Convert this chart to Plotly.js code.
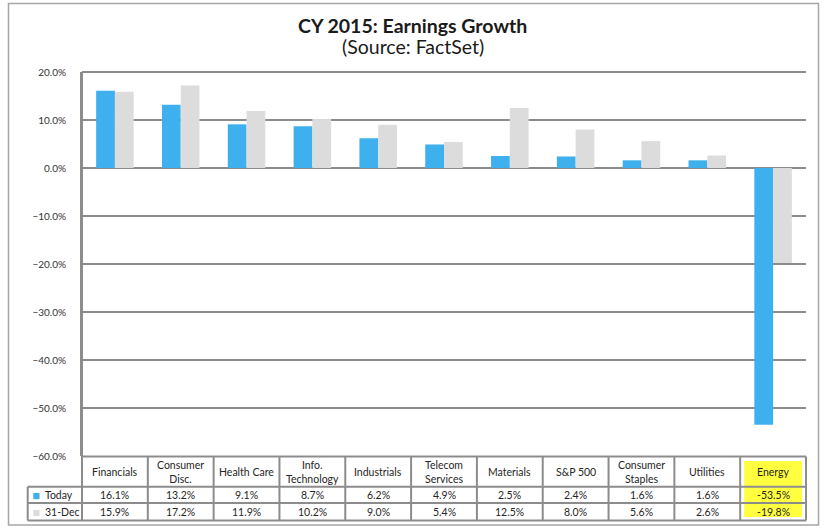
<!DOCTYPE html>
<html>
<head>
<meta charset="utf-8">
<script src="https://cdn.plot.ly/plotly-3.0.1.min.js"></script>
<style>html,body{margin:0;padding:0;background:#fff;}#chart{width:834px;height:532px;}</style>
</head>
<body>
<div id="chart"></div>
<script>
// ---- data ----
var categories = ["Financials", "Consumer<br>Disc.", "Health Care", "Info.<br>Technology", "Industrials", "Telecom<br>Services", "Materials", "S&P 500", "Consumer<br>Staples", "Utilities", "Energy"];
var seriesNames = ["Today", "31-Dec"];
var todayValues = [16.1, 13.2, 9.1, 8.7, 6.2, 4.9, 2.5, 2.4, 1.6, 1.6, -53.5];
var decValues = [15.9, 17.2, 11.9, 10.2, 9.0, 5.4, 12.5, 8.0, 5.6, 2.6, -19.8];
var highlightCategory = "Energy";
var titleLines = ["CY 2015: Earnings Growth", "(Source: FactSet)"];

// ---- styles ----
var FONT = "Lato, 'Open Sans', sans-serif";
var BLUE = "#3fb0ee";
var GREY = "#dcdcdc";
var LINE = "#8c8c8c";
var TXT = "#262626";

var catKeys = categories.map(function (c, i) { return "c" + i; });

var traces = [
  { type: "bar", name: seriesNames[0], x: catKeys, y: todayValues, marker: { color: BLUE, line: { width: 0 } }, hoverinfo: "skip" },
  { type: "bar", name: seriesNames[1], x: catKeys, y: decValues, marker: { color: GREY, line: { width: 0 } }, hoverinfo: "skip" }
];

// table geometry in paper units (plot area: 82..806 px wide, 72..456 px tall)
var W = 724, H = 384;
function px(p) { return (p - 82) / W; }
function py(p) { return (456 - p) / H; }

var n = categories.length;
var yTop = py(456.5), yHead = py(486.7), yRow1 = py(503), yRow2 = py(520.5);
var xLeg = px(27.7);

var shapes = [];
// highlight behind Energy column
var hi = categories.indexOf(highlightCategory);
shapes.push({ type: "rect", xref: "paper", yref: "paper", x0: (hi + 0.06) / n, x1: (hi + 0.94) / n, y0: py(461), y1: py(517), fillcolor: "#ffff40", line: { width: 0 }, layer: "above" });
// outer chart border
shapes.push({ type: "rect", xref: "paper", yref: "paper", x0: px(8.5), x1: px(818.5), y0: py(3.5), y1: py(525), line: { color: "#a6a6a6", width: 1.5 }, fillcolor: "rgba(0,0,0,0)" });
// top line of plot area
shapes.push({ type: "line", xref: "paper", yref: "paper", x0: 0, x1: 1, y0: 1, y1: 1, line: { color: LINE, width: 2 } });
// table horizontal lines
shapes.push({ type: "line", xref: "paper", yref: "paper", x0: 0, x1: 1, y0: yTop, y1: yTop, line: { color: LINE, width: 2 } });
[yHead, yRow1, yRow2].forEach(function (yy) {
  shapes.push({ type: "line", xref: "paper", yref: "paper", x0: xLeg, x1: 1, y0: yy, y1: yy, line: { color: LINE, width: 2 } });
});
// table vertical lines
for (var i = 0; i <= n; i++) {
  shapes.push({ type: "line", xref: "paper", yref: "paper", x0: i / n, x1: i / n, y0: i === 0 ? 1 : yTop, y1: yRow2, line: { color: LINE, width: 2 } });
}
shapes.push({ type: "line", xref: "paper", yref: "paper", x0: xLeg, x1: xLeg, y0: yHead, y1: yRow2, line: { color: LINE, width: 2 } });
// legend keys
var keyColors = [BLUE, GREY];
var rowMid = [(yHead + yRow1) / 2, (yRow1 + yRow2) / 2];
for (var k = 0; k < 2; k++) {
  var c = rowMid[k] - 1.2 / H;
  shapes.push({ type: "rect", xref: "paper", yref: "paper", x0: px(33.3), x1: px(39.5), y0: c - 3.1 / H, y1: c + 3.1 / H, fillcolor: keyColors[k], line: { width: 0 } });
}

var annotations = [];
// title (two lines)
annotations.push({ xref: "paper", yref: "paper", x: px(412), y: py(25), text: "<b>" + titleLines[0] + "</b>", showarrow: false, font: { family: FONT, size: 19.5, color: "#1a1a1a" }, xanchor: "center", yanchor: "middle" });
annotations.push({ xref: "paper", yref: "paper", x: px(413), y: py(47), text: titleLines[1], showarrow: false, font: { family: FONT, size: 19.5, color: "#1a1a1a" }, xanchor: "center", yanchor: "middle" });

var headMid = (yTop + yHead) / 2;
categories.forEach(function (cat, i) {
  annotations.push({ xref: "x", yref: "paper", x: catKeys[i], y: headMid, text: cat, showarrow: false, font: { family: FONT, size: 10.5, color: TXT }, align: "center", xanchor: "center", yanchor: "middle" });
  annotations.push({ xref: "x", yref: "paper", x: catKeys[i], y: rowMid[0], text: todayValues[i].toFixed(1) + "%", showarrow: false, font: { family: FONT, size: 10.5, color: TXT }, xanchor: "center", yanchor: "middle" });
  annotations.push({ xref: "x", yref: "paper", x: catKeys[i], y: rowMid[1], text: decValues[i].toFixed(1) + "%", showarrow: false, font: { family: FONT, size: 10.5, color: TXT }, xanchor: "center", yanchor: "middle" });
});
seriesNames.forEach(function (s, k) {
  annotations.push({ xref: "paper", yref: "paper", x: px(42.5), y: rowMid[k], text: s, showarrow: false, font: { family: FONT, size: 10.5, color: TXT }, xanchor: "left", yanchor: "middle" });
});

var layout = {
  width: 834, height: 532,
  margin: { l: 82, r: 28, t: 72, b: 76 },
  paper_bgcolor: "#ffffff", plot_bgcolor: "#ffffff",
  showlegend: false,
  barmode: "group", bargap: 0.43, bargroupgap: 0,
  xaxis: { type: "category", showticklabels: false, ticks: "", showgrid: false, zeroline: false, showline: false, fixedrange: true },
  yaxis: { range: [-60, 20], dtick: 10, tick0: 0, ticksuffix: "%", tickformat: ".1f", showgrid: true, gridcolor: LINE, gridwidth: 2, zeroline: true, zerolinecolor: LINE, zerolinewidth: 2, showline: true, linecolor: LINE, linewidth: 2, ticks: "", ticklabelstandoff: 12, tickfont: { family: FONT, size: 10, color: "#333" }, fixedrange: true },
  shapes: shapes,
  annotations: annotations
};

Plotly.newPlot("chart", traces, layout, { displayModeBar: false, staticPlot: true });
</script>
</body>
</html>
